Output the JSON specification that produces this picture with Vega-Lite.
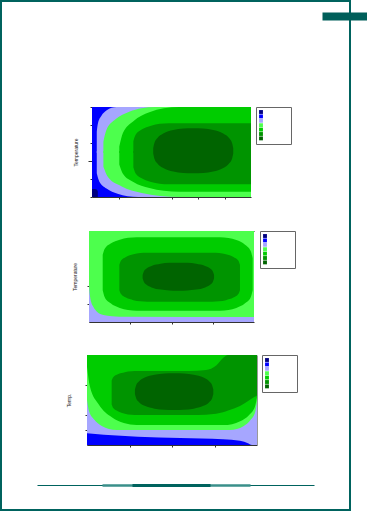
{
  "$schema": "https://vega.github.io/schema/vega-lite/v6.json",
  "autosize": {"type": "none"},
  "padding": {"left": 1, "top": 1, "right": 17, "bottom": 2},
  "background": "white",
  "width": 349,
  "height": 509,
  "view": {"stroke": "#00635e", "strokeWidth": 2},
  "config": {
    "axis": {"grid": false, "labels": false, "tickSize": 2, "domainColor": "#333", "tickColor": "#333", "domainWidth": 1, "titleFont": "Liberation Sans", "titleFontSize": 5, "titleFontWeight": "normal", "titleColor": "#222"},
    "legend": {"title": null, "orient": "none", "padding": 3, "strokeColor": "#666", "fillColor": "white", "symbolType": "square", "symbolSize": 15, "symbolStrokeWidth": 0, "labelOffset": 25, "labelFontSize": 2, "rowPadding": 0.4},
    "area": {"interpolate": "monotone"}
  },
  "datasets": {
    "c1": [
      {"b": "bg", "l": 1, "x": 0, "x2": 60, "y": 0, "y2": 100},
      {"b": "navy", "l": 0, "x": 0, "x2": 2.2, "y": 0, "y2": 9},
      {"b": "lavU", "l": 2, "x": 1.8, "y": 49, "y2": 72.6},
      {"b": "lavU", "l": 2, "x": 2.25, "y": 49, "y2": 82.0},
      {"b": "lavU", "l": 2, "x": 3.56, "y": 49, "y2": 90.2},
      {"b": "lavU", "l": 2, "x": 5.55, "y": 49, "y2": 96.3},
      {"b": "lavU", "l": 2, "x": 7.36, "y": 49, "y2": 99.1},
      {"b": "lavU", "l": 2, "x": 9.3, "y": 49, "y2": 100},
      {"b": "lavU", "l": 2, "x": 60, "y": 49, "y2": 100},
      {"b": "lavL", "l": 2, "x": 1.8, "y": 26.3, "y2": 51},
      {"b": "lavL", "l": 2, "x": 2.74, "y": 17.3, "y2": 51},
      {"b": "lavL", "l": 2, "x": 5.47, "y": 9.4, "y2": 51},
      {"b": "lavL", "l": 2, "x": 9.65, "y": 3.5, "y2": 51},
      {"b": "lavL", "l": 2, "x": 13.43, "y": 0.9, "y2": 51},
      {"b": "lavL", "l": 2, "x": 17.5, "y": 0, "y2": 51},
      {"b": "lavL", "l": 2, "x": 60, "y": 0, "y2": 51},
      {"b": "lgU", "l": 3, "x": 4.3, "y": 49, "y2": 61.5},
      {"b": "lgU", "l": 3, "x": 5.47, "y": 49, "y2": 74.7},
      {"b": "lgU", "l": 3, "x": 8.86, "y": 49, "y2": 86.3},
      {"b": "lgU", "l": 3, "x": 14.05, "y": 49, "y2": 94.8},
      {"b": "lgU", "l": 3, "x": 18.75, "y": 49, "y2": 98.7},
      {"b": "lgU", "l": 3, "x": 23.8, "y": 49, "y2": 100},
      {"b": "lgU", "l": 3, "x": 60, "y": 49, "y2": 100},
      {"b": "lgL", "l": 3, "x": 4.3, "y": 33.7, "y2": 51},
      {"b": "lgL", "l": 3, "x": 6.03, "y": 22.2, "y2": 51},
      {"b": "lgL", "l": 3, "x": 11.06, "y": 12.0, "y2": 51},
      {"b": "lgL", "l": 3, "x": 18.75, "y": 4.5, "y2": 51},
      {"b": "lgL", "l": 3, "x": 25.71, "y": 1.1, "y2": 51},
      {"b": "lgL", "l": 3, "x": 33.2, "y": 0, "y2": 51},
      {"b": "lgL", "l": 3, "x": 60, "y": 0, "y2": 51},
      {"b": "g4U", "l": 4, "x": 10.3, "y": 49, "y2": 56},
      {"b": "g4U", "l": 4, "x": 11.66, "y": 49, "y2": 71.0},
      {"b": "g4U", "l": 4, "x": 15.61, "y": 49, "y2": 84.3},
      {"b": "g4U", "l": 4, "x": 21.65, "y": 49, "y2": 94.1},
      {"b": "g4U", "l": 4, "x": 27.12, "y": 49, "y2": 98.5},
      {"b": "g4U", "l": 4, "x": 33, "y": 49, "y2": 100},
      {"b": "g4U", "l": 4, "x": 60, "y": 49, "y2": 100},
      {"b": "g4L", "l": 4, "x": 10.3, "y": 36, "y2": 51},
      {"b": "g4L", "l": 4, "x": 11.66, "y": 25.7, "y2": 51},
      {"b": "g4L", "l": 4, "x": 15.61, "y": 16.6, "y2": 51},
      {"b": "g4L", "l": 4, "x": 21.65, "y": 9.9, "y2": 51},
      {"b": "g4L", "l": 4, "x": 27.12, "y": 6.9, "y2": 51},
      {"b": "g4L", "l": 4, "x": 33, "y": 5.9, "y2": 51},
      {"b": "g4L", "l": 4, "x": 60, "y": 5.9, "y2": 51},
      {"b": "g5U", "l": 5, "x": 15.6, "y": 49, "y2": 62},
      {"b": "g5U", "l": 5, "x": 16.4, "y": 49, "y2": 68.8},
      {"b": "g5U", "l": 5, "x": 18.74, "y": 49, "y2": 74.9},
      {"b": "g5U", "l": 5, "x": 22.3, "y": 49, "y2": 79.3},
      {"b": "g5U", "l": 5, "x": 25.53, "y": 49, "y2": 81.3},
      {"b": "g5U", "l": 5, "x": 29, "y": 49, "y2": 82},
      {"b": "g5U", "l": 5, "x": 60, "y": 49, "y2": 82},
      {"b": "g5L", "l": 5, "x": 15.6, "y": 33, "y2": 51},
      {"b": "g5L", "l": 5, "x": 16.4, "y": 26.5, "y2": 51},
      {"b": "g5L", "l": 5, "x": 18.74, "y": 20.8, "y2": 51},
      {"b": "g5L", "l": 5, "x": 22.3, "y": 16.6, "y2": 51},
      {"b": "g5L", "l": 5, "x": 25.53, "y": 14.7, "y2": 51},
      {"b": "g5L", "l": 5, "x": 29, "y": 14.1, "y2": 51},
      {"b": "g5L", "l": 5, "x": 60, "y": 14.1, "y2": 51},
      {"b": "g6", "l": 6, "x": 23.1, "y": 48.3, "y2": 54.3},
      {"b": "g6", "l": 6, "x": 23.55, "y": 42.5, "y2": 60.1},
      {"b": "g6", "l": 6, "x": 24.61, "y": 37.4, "y2": 65.2},
      {"b": "g6", "l": 6, "x": 26.88, "y": 32.1, "y2": 70.5},
      {"b": "g6", "l": 6, "x": 30.65, "y": 28.2, "y2": 74.4},
      {"b": "g6", "l": 6, "x": 34.43, "y": 26.6, "y2": 76.0},
      {"b": "g6", "l": 6, "x": 38.2, "y": 26.3, "y2": 76.3},
      {"b": "g6", "l": 6, "x": 41.98, "y": 26.6, "y2": 76.0},
      {"b": "g6", "l": 6, "x": 45.75, "y": 28.2, "y2": 74.4},
      {"b": "g6", "l": 6, "x": 49.53, "y": 32.1, "y2": 70.5},
      {"b": "g6", "l": 6, "x": 51.79, "y": 37.4, "y2": 65.2},
      {"b": "g6", "l": 6, "x": 52.85, "y": 42.5, "y2": 60.1},
      {"b": "g6", "l": 6, "x": 53.3, "y": 48.3, "y2": 54.3}
    ],
    "c2": [
      {"b": "bg", "l": 2, "x": 0, "x2": 100, "y": 0, "y2": 100},
      {"b": "lg", "l": 3, "x": 0, "y": 40.7, "y2": 100},
      {"b": "lg", "l": 3, "x": 0.5, "y": 30, "y2": 100},
      {"b": "lg", "l": 3, "x": 1.3, "y": 22, "y2": 100},
      {"b": "lg", "l": 3, "x": 2.6, "y": 16.8, "y2": 100},
      {"b": "lg", "l": 3, "x": 5, "y": 11, "y2": 100},
      {"b": "lg", "l": 3, "x": 8.7, "y": 7.7, "y2": 100},
      {"b": "lg", "l": 3, "x": 14, "y": 6.4, "y2": 100},
      {"b": "lg", "l": 3, "x": 22.8, "y": 5.8, "y2": 100},
      {"b": "lg", "l": 3, "x": 100, "y": 5.5, "y2": 100},
      {"b": "g4", "l": 4, "x": 8.3, "y": 35, "y2": 74},
      {"b": "g4", "l": 4, "x": 9.54, "y": 27.3, "y2": 80.5},
      {"b": "g4", "l": 4, "x": 13.14, "y": 20.5, "y2": 86.3},
      {"b": "g4", "l": 4, "x": 18.65, "y": 15.4, "y2": 90.5},
      {"b": "g4", "l": 4, "x": 23.64, "y": 13.2, "y2": 92.5},
      {"b": "g4", "l": 4, "x": 29.0, "y": 12.4, "y2": 93.1},
      {"b": "g4", "l": 4, "x": 79.4, "y": 12.4, "y2": 93.1},
      {"b": "g4", "l": 4, "x": 84.53, "y": 13.2, "y2": 92.3},
      {"b": "g4", "l": 4, "x": 89.3, "y": 15.4, "y2": 90.0},
      {"b": "g4", "l": 4, "x": 94.57, "y": 20.5, "y2": 84.9},
      {"b": "g4", "l": 4, "x": 98.01, "y": 27.3, "y2": 77.9},
      {"b": "g4", "l": 4, "x": 99.2, "y": 35, "y2": 70},
      {"b": "g5", "l": 5, "x": 18.4, "y": 35, "y2": 63},
      {"b": "g5", "l": 5, "x": 19.42, "y": 30.7, "y2": 67.5},
      {"b": "g5", "l": 5, "x": 22.38, "y": 26.8, "y2": 71.5},
      {"b": "g5", "l": 5, "x": 26.9, "y": 24.0, "y2": 74.4},
      {"b": "g5", "l": 5, "x": 31.0, "y": 22.7, "y2": 75.8},
      {"b": "g5", "l": 5, "x": 35.4, "y": 22.3, "y2": 76.2},
      {"b": "g5", "l": 5, "x": 74.5, "y": 22.3, "y2": 76.2},
      {"b": "g5", "l": 5, "x": 78.9, "y": 22.7, "y2": 75.8},
      {"b": "g5", "l": 5, "x": 83.0, "y": 24.0, "y2": 74.4},
      {"b": "g5", "l": 5, "x": 87.52, "y": 26.8, "y2": 71.5},
      {"b": "g5", "l": 5, "x": 90.48, "y": 30.7, "y2": 67.5},
      {"b": "g5", "l": 5, "x": 91.5, "y": 35, "y2": 63},
      {"b": "g6", "l": 6, "x": 32.5, "y": 48.0, "y2": 51.6},
      {"b": "g6", "l": 6, "x": 33.15, "y": 44.4, "y2": 55.2},
      {"b": "g6", "l": 6, "x": 34.67, "y": 41.2, "y2": 58.4},
      {"b": "g6", "l": 6, "x": 37.91, "y": 38.0, "y2": 61.6},
      {"b": "g6", "l": 6, "x": 43.33, "y": 35.6, "y2": 64.0},
      {"b": "g6", "l": 6, "x": 48.74, "y": 34.6, "y2": 65.0},
      {"b": "g6", "l": 6, "x": 54.15, "y": 34.4, "y2": 65.2},
      {"b": "g6", "l": 6, "x": 59.56, "y": 34.6, "y2": 65.0},
      {"b": "g6", "l": 6, "x": 64.98, "y": 35.6, "y2": 64.0},
      {"b": "g6", "l": 6, "x": 70.39, "y": 38.0, "y2": 61.6},
      {"b": "g6", "l": 6, "x": 73.64, "y": 41.2, "y2": 58.4},
      {"b": "g6", "l": 6, "x": 75.15, "y": 44.4, "y2": 55.2},
      {"b": "g6", "l": 6, "x": 75.8, "y": 48.0, "y2": 51.6}
    ],
    "c3": [
      {"b": "bg", "l": 1, "x": 0, "x2": 100, "y": 0, "y2": 60},
      {"b": "lav", "l": 2, "x": 0, "y": 7.8, "y2": 60},
      {"b": "lav", "l": 2, "x": 10, "y": 6.8, "y2": 60},
      {"b": "lav", "l": 2, "x": 30, "y": 5.5, "y2": 60},
      {"b": "lav", "l": 2, "x": 55, "y": 4.6, "y2": 60},
      {"b": "lav", "l": 2, "x": 80, "y": 3.8, "y2": 60},
      {"b": "lav", "l": 2, "x": 90, "y": 2.8, "y2": 60},
      {"b": "lav", "l": 2, "x": 95, "y": 1, "y2": 60},
      {"b": "lav", "l": 2, "x": 97, "y": 0, "y2": 60},
      {"b": "lav", "l": 2, "x": 100, "y": 0, "y2": 60},
      {"b": "lg", "l": 3, "x": 0, "y": 30, "y2": 60},
      {"b": "lg", "l": 3, "x": 1.04, "y": 23.2, "y2": 60},
      {"b": "lg", "l": 3, "x": 4.07, "y": 17.1, "y2": 60},
      {"b": "lg", "l": 3, "x": 8.7, "y": 12.7, "y2": 60},
      {"b": "lg", "l": 3, "x": 12.89, "y": 10.7, "y2": 60},
      {"b": "lg", "l": 3, "x": 17.4, "y": 10, "y2": 60},
      {"b": "lg", "l": 3, "x": 84, "y": 10, "y2": 60},
      {"b": "lg", "l": 3, "x": 88.14, "y": 10.6, "y2": 60},
      {"b": "lg", "l": 3, "x": 92, "y": 12.5, "y2": 60},
      {"b": "lg", "l": 3, "x": 96.26, "y": 16.8, "y2": 60},
      {"b": "lg", "l": 3, "x": 99.04, "y": 22.4, "y2": 60},
      {"b": "lg", "l": 3, "x": 100, "y": 28.9, "y2": 60},
      {"b": "g4", "l": 4, "x": 0, "y": 52.2, "y2": 60},
      {"b": "g4", "l": 4, "x": 1.75, "y": 38.9, "y2": 60},
      {"b": "g4", "l": 4, "x": 6.83, "y": 27.2, "y2": 60},
      {"b": "g4", "l": 4, "x": 14.6, "y": 18.5, "y2": 60},
      {"b": "g4", "l": 4, "x": 21.64, "y": 14.6, "y2": 60},
      {"b": "g4", "l": 4, "x": 29.2, "y": 13.3, "y2": 60},
      {"b": "g4", "l": 4, "x": 80.2, "y": 13.3, "y2": 60},
      {"b": "g4", "l": 4, "x": 85.33, "y": 13.9, "y2": 60},
      {"b": "g4", "l": 4, "x": 90.1, "y": 15.8, "y2": 60},
      {"b": "g4", "l": 4, "x": 95.37, "y": 20.0, "y2": 60},
      {"b": "g4", "l": 4, "x": 98.81, "y": 25.6, "y2": 60},
      {"b": "g4", "l": 4, "x": 100, "y": 32, "y2": 60},
      {"b": "g5", "l": 5, "x": 14.5, "y": 27, "y2": 43},
      {"b": "g5", "l": 5, "x": 15.43, "y": 24.6, "y2": 45.2},
      {"b": "g5", "l": 5, "x": 18.13, "y": 22.5, "y2": 47.1},
      {"b": "g5", "l": 5, "x": 22.25, "y": 20.9, "y2": 48.5},
      {"b": "g5", "l": 5, "x": 25.99, "y": 20.2, "y2": 49.1},
      {"b": "g5", "l": 5, "x": 30, "y": 20, "y2": 49.3},
      {"b": "g5", "l": 5, "x": 60, "y": 20, "y2": 49.3},
      {"b": "g5", "l": 5, "x": 70, "y": 20.2, "y2": 50},
      {"b": "g5", "l": 5, "x": 76, "y": 20.8, "y2": 53},
      {"b": "g5", "l": 5, "x": 80, "y": 21.8, "y2": 58},
      {"b": "g5", "l": 5, "x": 83, "y": 23, "y2": 60},
      {"b": "g5", "l": 5, "x": 90, "y": 26, "y2": 60},
      {"b": "g5", "l": 5, "x": 95, "y": 29.5, "y2": 60},
      {"b": "g5", "l": 5, "x": 100, "y": 33, "y2": 60},
      {"b": "g6", "l": 6, "x": 28.2, "y": 34.05, "y2": 37.05},
      {"b": "g6", "l": 6, "x": 28.89, "y": 31.25, "y2": 39.85},
      {"b": "g6", "l": 6, "x": 30.51, "y": 28.75, "y2": 42.35},
      {"b": "g6", "l": 6, "x": 33.96, "y": 26.15, "y2": 44.95},
      {"b": "g6", "l": 6, "x": 39.73, "y": 24.25, "y2": 46.85},
      {"b": "g6", "l": 6, "x": 45.49, "y": 23.45, "y2": 47.65},
      {"b": "g6", "l": 6, "x": 51.25, "y": 23.3, "y2": 47.8},
      {"b": "g6", "l": 6, "x": 57.01, "y": 23.45, "y2": 47.65},
      {"b": "g6", "l": 6, "x": 62.78, "y": 24.25, "y2": 46.85},
      {"b": "g6", "l": 6, "x": 68.54, "y": 26.15, "y2": 44.95},
      {"b": "g6", "l": 6, "x": 71.99, "y": 28.75, "y2": 42.35},
      {"b": "g6", "l": 6, "x": 73.61, "y": 31.25, "y2": 39.85},
      {"b": "g6", "l": 6, "x": 74.3, "y": 34.05, "y2": 37.05}
    ]
  },
  "resolve": {
    "scale": {"x": "independent", "y": "independent", "color": "independent"},
    "axis": {"x": "independent", "y": "independent"},
    "legend": {"color": "independent"}
  },
  "layer": [
    {
      "data": {"name": "c1"},
      "encoding": {
        "x": {"field": "x", "type": "quantitative", "scale": {"domain": [0, 60], "range": [91, 250], "nice": false, "zero": false}, "axis": {"orient": "bottom", "offset": -313, "title": null, "values": [10, 30, 40, 50]}},
        "y": {"field": "y", "type": "quantitative", "scale": {"domain": [0, 100], "range": [196, 106], "nice": false, "zero": false}, "axis": {"orient": "left", "offset": -91, "title": "Temperature", "titlePadding": 9, "values": [0, 20, 40, 60, 80, 100], "tickSize": {"condition": {"test": "datum.value === 40", "value": 4}, "value": 2}}},
        "y2": {"field": "y2"},
        "color": {"field": "l", "type": "ordinal", "scale": {"domain": [0, 1, 2, 3, 4, 5, 6], "range": ["#000080", "#0000ff", "#a6a6ff", "#4dff4d", "#00cc00", "#009400", "#006400"]}, "legend": {"legendX": 255, "legendY": 106, "labelExpr": "''"}}
      },
      "layer": [
        {"transform": [{"filter": "datum.b === 'bg'"}], "mark": "rect", "encoding": {"x2": {"field": "x2"}}},
        {"transform": [{"filter": "datum.b === 'navy'"}], "mark": {"type": "rect", "cornerRadiusTopRight": 6}, "encoding": {"x2": {"field": "x2"}}},
        {"transform": [{"filter": "datum.l === 2 && datum.b !== 'bg'"}], "mark": "area", "encoding": {"detail": {"field": "b"}}},
        {"transform": [{"filter": "datum.l === 3"}], "mark": "area", "encoding": {"detail": {"field": "b"}}},
        {"transform": [{"filter": "datum.l === 4"}], "mark": "area", "encoding": {"detail": {"field": "b"}}},
        {"transform": [{"filter": "datum.l === 5"}], "mark": "area", "encoding": {"detail": {"field": "b"}}},
        {"transform": [{"filter": "datum.l === 6"}], "mark": "area", "encoding": {"detail": {"field": "b"}}}
      ]
    },
    {
      "data": {"name": "c2"},
      "encoding": {
        "x": {"field": "x", "type": "quantitative", "scale": {"domain": [0, 100], "range": [88, 253], "nice": false, "zero": false}, "axis": {"orient": "bottom", "offset": -188, "title": null, "values": [25, 50, 75]}},
        "y": {"field": "y", "type": "quantitative", "scale": {"domain": [0, 100], "range": [321, 230], "nice": false, "zero": false}, "axis": {"orient": "left", "offset": -88, "title": "Temperature", "titlePadding": 9, "values": [20, 40]}},
        "y2": {"field": "y2"},
        "color": {"field": "l", "type": "ordinal", "scale": {"domain": [0, 1, 2, 3, 4, 5, 6], "range": ["#000080", "#0000ff", "#a6a6ff", "#4dff4d", "#00cc00", "#009400", "#006400"]}, "legend": {"legendX": 259, "legendY": 230, "labelExpr": "''"}}
      },
      "layer": [
        {"transform": [{"filter": "datum.b === 'bg'"}], "mark": "rect", "encoding": {"x2": {"field": "x2"}}},
        {"transform": [{"filter": "datum.b === 'lg'"}], "mark": "area"},
        {"transform": [{"filter": "datum.b === 'g4'"}], "mark": "area"},
        {"transform": [{"filter": "datum.b === 'g5'"}], "mark": "area"},
        {"transform": [{"filter": "datum.b === 'g6'"}], "mark": "area"}
      ]
    },
    {
      "data": {"name": "c3"},
      "encoding": {
        "x": {"field": "x", "type": "quantitative", "scale": {"domain": [0, 100], "range": [86, 256], "nice": false, "zero": false}, "axis": {"orient": "bottom", "offset": -65, "title": null, "values": [25, 50, 75]}},
        "y": {"field": "y", "type": "quantitative", "scale": {"domain": [0, 60], "range": [444, 354], "nice": false, "zero": false}, "axis": {"orient": "left", "offset": -86, "title": "Temp.", "titlePadding": 13, "values": [10, 20, 40]}},
        "y2": {"field": "y2"},
        "color": {"field": "l", "type": "ordinal", "scale": {"domain": [0, 1, 2, 3, 4, 5, 6], "range": ["#000080", "#0000ff", "#a6a6ff", "#4dff4d", "#00cc00", "#009400", "#006400"]}, "legend": {"legendX": 261, "legendY": 354, "labelExpr": "''"}}
      },
      "layer": [
        {"transform": [{"filter": "datum.b === 'bg'"}], "mark": "rect", "encoding": {"x2": {"field": "x2"}}},
        {"transform": [{"filter": "datum.b === 'lav'"}], "mark": "area"},
        {"transform": [{"filter": "datum.b === 'lg'"}], "mark": "area"},
        {"transform": [{"filter": "datum.b === 'g4'"}], "mark": "area"},
        {"transform": [{"filter": "datum.b === 'g5'"}], "mark": "area"},
        {"transform": [{"filter": "datum.b === 'g6'"}], "mark": "area"}
      ]
    },
    {
      "data": {"values": []},
      "mark": "point",
      "encoding": {
        "x": {"field": "d", "type": "quantitative", "scale": {"domain": [0, 1], "range": [88, 253], "nice": false, "zero": false}, "axis": {"orient": "top", "offset": -230, "title": null, "ticks": false, "domainColor": "#222"}}
      }
    },
    {
      "data": {"values": []},
      "mark": "point",
      "encoding": {
        "y": {"field": "d", "type": "quantitative", "scale": {"domain": [0, 1], "range": [444, 354], "nice": false, "zero": false}, "axis": {"orient": "right", "offset": -93, "title": null, "ticks": false, "domainColor": "#999"}}
      }
    },
    {
      "data": {"values": []},
      "mark": "point",
      "encoding": {
        "x": {"field": "d", "type": "quantitative", "scale": {"domain": [0, 1], "range": [36, 313], "nice": false, "zero": false}, "axis": {"orient": "bottom", "offset": -25, "title": null, "ticks": false, "domainColor": "#00635e", "domainWidth": 1.2}}
      }
    },
    {
      "data": {"values": []},
      "mark": "point",
      "encoding": {
        "x": {"field": "d", "type": "quantitative", "scale": {"domain": [0, 1], "range": [101, 249], "nice": false, "zero": false}, "axis": {"orient": "bottom", "offset": -25, "title": null, "ticks": false, "domainColor": "#3a8f8a", "domainWidth": 2.5}}
      }
    },
    {
      "data": {"values": []},
      "mark": "point",
      "encoding": {
        "x": {"field": "d", "type": "quantitative", "scale": {"domain": [0, 1], "range": [131, 209], "nice": false, "zero": false}, "axis": {"orient": "bottom", "offset": -25, "title": null, "ticks": false, "domainColor": "#00635e", "domainWidth": 3}}
      }
    },
    {
      "data": {"values": []},
      "mark": "point",
      "encoding": {
        "x": {"field": "d", "type": "quantitative", "scale": {"domain": [0, 1], "range": [321, 366], "nice": false, "zero": false}, "axis": {"orient": "top", "offset": -15, "title": null, "ticks": false, "domainColor": "#005f5a", "domainWidth": 8}}
      }
    }
  ]
}
